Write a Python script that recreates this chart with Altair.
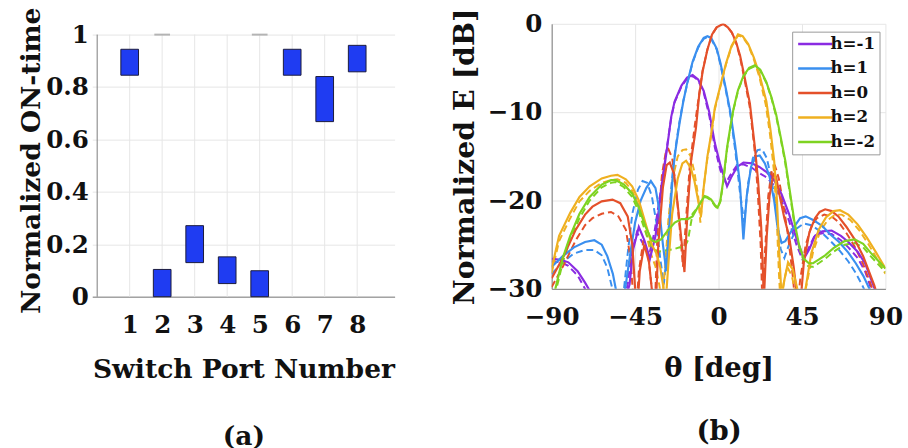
import altair as alt
import pandas as pd

FONT = "DejaVu Serif"

# ---------------- panel (a) data ----------------
ports = [1, 2, 3, 4, 5, 6, 7, 8]
on_low = [0.845, 0.0, 0.13, 0.05, 0.0, 0.845, 0.668, 0.858]
on_high = [0.944, 0.104, 0.271, 0.152, 0.099, 0.944, 0.84, 0.959]
cap_ports = [2, 5]
cap_values = [1.0, 1.0]
y_ticks_a = [0, 0.2, 0.4, 0.6, 0.8, 1.0]
grid_a_bottom = [0.0] * 8
grid_a_top = [1.0] * 8

# ---------------- panel (b) data (theta deg, dB) ----------------
series_names = ["h=-1", "h=1", "h=0", "h=2", "h=-2"]
series_colors = ["#8A2BE2", "#3A8FEF", "#E4502A", "#EFB020", "#7ED321"]

purple_solid = [(-90,-26.6),(-85,-26.7),(-81,-27),(-76,-28),(-72,-29.3),(-68.7,-30.5),(-65,-33),(-55,-33),(-50,-31),(-48,-29.5),(-46,-25.5),(-43,-23),(-40,-24.5),(-37,-26.6),(-34,-24),(-31,-19),(-28,-14.4),(-25.5,-10.5),(-23.7,-8.8),(-20,-7),(-17,-6.1),(-14,-5.8),(-11,-6.3),(-8,-7.6),(-5,-10),(-2,-13.5),(1,-16),(4.6,-18.4),(7,-17.3),(10,-16.2),(13.4,-15.7),(18,-15.8),(22,-16.2),(26,-16.8),(30,-17.7),(34,-19.3),(38,-21.5),(42,-24.3),(46,-26.6),(49,-25.5),(52,-24),(56,-23.5),(61,-23.4),(66,-24),(70,-24.7),(75,-25.8),(79,-27.1),(84,-29.9),(86,-31)]
purple_dash = [(-90,-26.9),(-85,-27),(-81,-27.4),(-76,-28.5),(-72,-30),(-68,-31.5),(-60,-34),(-52,-32),(-49,-29.5),(-47,-26),(-44,-23.6),(-41,-24.8),(-37.5,-26.2),(-34.5,-23.5),(-31,-18.6),(-28,-14.2),(-25.5,-10.6),(-23.7,-8.9),(-20,-7.1),(-17,-6.2),(-14,-5.9),(-11,-6.4),(-8,-7.8),(-5,-10.4),(-2,-14),(1,-16.6),(4,-18),(7,-16.9),(10,-16),(13.4,-15.9),(18,-16.3),(22,-16.9),(26,-17.4),(30,-18.3),(34,-20),(38,-22.3),(42,-25),(45.5,-26.8),(49,-25.2),(52,-23.9),(56,-23.7),(61,-23.8),(66,-24.5),(70,-25.3),(75,-26.5),(79,-28),(83,-30.4),(85,-31.5)]

blue_solid = [(-90,-27.5),(-84,-26.3),(-78,-25.3),(-72,-24.7),(-67,-24.5),(-63,-25),(-60,-26.3),(-57,-28.3),(-54.5,-31),(-52,-32),(-50,-29.5),(-47.6,-26),(-45,-22.5),(-42,-20),(-39,-18.6),(-36.5,-17.8),(-34,-18.6),(-32,-21),(-30,-25),(-28.2,-28),(-26.5,-23),(-24.5,-16.5),(-23,-14),(-21,-11.2),(-19,-8.8),(-17,-6.8),(-14,-4.3),(-11,-2.6),(-8,-1.6),(-6,-1.4),(-4,-1.6),(-1,-2.8),(1,-4.4),(4,-7.4),(6.3,-9.9),(9,-13.8),(11.5,-18),(13.4,-24.4),(15.2,-19.5),(17.5,-16.2),(20,-15),(22.2,-14.9),(25,-15.8),(27.5,-17.3),(30,-20),(32,-23.3),(34,-24.8),(36,-24.6),(40,-23.2),(44,-22),(47,-21.8),(51,-22.2),(56,-22.9),(60,-23.8),(65,-24.7),(70,-25.9),(74,-27.1),(78,-28.5),(81.4,-30),(84,-31)]
blue_dash = [(-90,-28.3),(-84,-27),(-78,-26),(-72,-25.6),(-67,-25.6),(-63,-26.2),(-60,-27.6),(-57.5,-29.8),(-55.5,-32),(-53,-33),(-51,-30),(-49,-26),(-46.5,-21.5),(-43.5,-18.8),(-41,-17.8),(-38.5,-18),(-36,-19.5),(-33.5,-22.5),(-31.5,-26.5),(-29.5,-29.5),(-27.5,-25),(-25.5,-18.5),(-23.5,-14.5),(-21.5,-11.6),(-19,-8.7),(-17,-6.9),(-14,-4.4),(-11,-2.7),(-8,-1.7),(-6,-1.5),(-4,-1.7),(-1,-2.9),(1,-4.6),(4,-7.6),(6.3,-10.2),(9,-14.3),(11.5,-19),(13.8,-22.5),(16,-18),(18.5,-15.2),(21,-14.3),(23.5,-14.2),(26,-15.2),(28.5,-17.5),(31,-21),(33.5,-25.5),(35.5,-26.5),(38,-25),(42,-23.2),(46,-22.6),(50,-22.8),(55,-23.5),(60,-24.5),(65,-25.6),(70,-26.9),(74,-28.2),(78,-29.8),(80.5,-31)]

red_solid = [(-90,-28.8),(-84,-26.5),(-77,-23.3),(-72,-21.6),(-68,-20.7),(-63,-20.1),(-57.2,-19.9),(-53,-20.3),(-49,-21.8),(-46.5,-25),(-45,-30),(-44,-33),(-42.5,-28),(-40,-25),(-37.5,-27),(-35.5,-31),(-34,-33),(-32.5,-25),(-30,-18.5),(-28,-16),(-26.3,-15.7),(-24,-17),(-22,-20.5),(-20,-24.5),(-18.4,-28.1),(-16.8,-21.5),(-14.8,-15.5),(-12.2,-11.8),(-10.5,-8.2),(-8.6,-5.4),(-6,-2.9),(-3.5,-1.2),(-1,-0.4),(2.5,0),(5,-0.4),(7.2,-1),(9.5,-2.1),(11.6,-3.6),(14,-6),(16.9,-9),(19.6,-14),(21.3,-17.7),(23,-23),(24.5,-31),(26,-24),(27.5,-19.5),(29.5,-17),(31,-17.3),(33,-19.5),(35.5,-22),(38,-24),(40.5,-27.5),(42.5,-31),(44,-32),(46,-27),(49,-23.6),(52,-22),(54.5,-21.3),(57.5,-21),(61,-21.2),(64.6,-21.8),(69,-23),(73.4,-24.4),(78,-26.3),(84,-29.6),(86,-31)]
red_dash = [(-90,-29.8),(-84,-27.5),(-77,-24.5),(-72,-22.8),(-68,-22),(-63,-21.5),(-58,-21.3),(-54,-21.8),(-50,-23.3),(-47.5,-26.5),(-46,-31),(-44.5,-33),(-43,-28),(-40.5,-24.5),(-38,-26),(-36,-30),(-34.5,-33),(-33,-24),(-30.5,-17),(-28.5,-14.6),(-27,-14.2),(-25,-15.2),(-23,-18.5),(-21,-23),(-19.2,-27.5),(-17.5,-22),(-15.5,-16),(-12.8,-11.5),(-10.5,-8),(-8.6,-5.3),(-6,-2.9),(-3.5,-1.2),(-1,-0.4),(2.5,0),(5,-0.4),(7.2,-1),(9.5,-2.2),(11.6,-3.8),(14,-6.3),(16.9,-9.5),(19.3,-14),(21,-18.5),(22.7,-25),(23.7,-32),(25,-26),(26.8,-19.5),(28.7,-16.5),(30.5,-16.1),(32.5,-17.5),(35,-20.5),(37.5,-24),(40,-28.5),(42,-33),(44,-29),(47,-25),(50,-23),(53,-22),(57,-21.6),(61,-21.8),(65,-22.5),(69,-23.7),(73.4,-25.2),(78,-27.2),(83,-30),(85,-31.5)]

yellow_solid = [(-90,-27.7),(-86,-24),(-80,-21.4),(-75,-19.6),(-69.5,-18.4),(-63,-17.5),(-58,-17.2),(-54.5,-17.1),(-50,-17.6),(-46.6,-18.4),(-43,-20),(-39.5,-22.5),(-36,-25),(-33.5,-26),(-31.5,-27.5),(-30,-29.5),(-28.5,-31.5),(-27,-27),(-25,-21.5),(-22,-17.5),(-19.5,-15.8),(-17.5,-15.5),(-15,-16.3),(-13,-17.8),(-11,-20),(-9.5,-21.8),(-8,-18.5),(-6,-15),(-4,-12.5),(-2,-9.5),(1,-7),(4,-4.5),(7,-2.5),(10.5,-1.2),(13,-1.4),(16,-2.3),(19,-3.8),(22,-5.7),(25.8,-8.8),(28,-12),(30,-15.5),(31.5,-20),(33,-27),(34,-31),(35.5,-29),(37.5,-27),(40,-27.8),(42.5,-30),(44,-32),(46.9,-30),(50,-26),(54,-23.3),(58,-21.9),(62,-21.2),(65.5,-21.1),(70,-21.6),(75,-22.7),(80,-24.2),(85,-25.9),(90,-27.7)]
yellow_dash = [(-90,-28.2),(-86,-24.6),(-80,-22),(-75,-20.1),(-69.5,-18.9),(-63,-18),(-58,-17.7),(-54.5,-17.6),(-50,-18),(-46.6,-18.9),(-43,-20.6),(-39.5,-23.3),(-36.5,-26),(-34,-27.5),(-32,-29.5),(-30.5,-31.5),(-29,-28),(-27,-22),(-24.5,-17.3),(-22,-15),(-19.5,-14.3),(-17.5,-14.2),(-15,-15),(-13,-16.8),(-11,-19.5),(-9.8,-22.5),(-8.2,-18.8),(-6,-15.2),(-4,-12.7),(-2,-9.7),(1,-7.1),(4,-4.6),(7,-2.6),(10.5,-1.3),(13,-1.5),(16,-2.4),(19,-4),(22,-6),(25.5,-9.2),(27.8,-12.6),(29.8,-16.5),(31.2,-21),(32.5,-28),(33.5,-32),(35,-29.5),(37,-27.5),(39.5,-28.5),(42,-31),(44,-33),(47.5,-29.5),(51,-25.8),(55,-23.4),(59,-22.2),(63,-21.6),(66.5,-21.6),(71,-22.2),(76,-23.4),(81,-25),(86,-26.8),(90,-28.3)]

green_solid = [(-90,-31.5),(-88,-30),(-84,-26.5),(-80,-24),(-75,-21.5),(-69.5,-19.6),(-63,-18.2),(-58,-17.7),(-55.4,-17.7),(-51,-18.2),(-46.6,-19.2),(-43,-20.8),(-39.5,-22.9),(-36,-24.5),(-34,-24.7),(-31,-24.4),(-27,-23.3),(-23.6,-22.5),(-20,-22.1),(-16.6,-22.1),(-14,-21.8),(-11.3,-20.8),(-9,-20),(-7.5,-19.5),(-6,-19.6),(-4,-19.9),(-2,-20.5),(-0.5,-20.8),(1,-20),(2.5,-17.8),(4.6,-14),(6.5,-11.5),(8.1,-9.6),(10.5,-7.5),(13.4,-5.9),(16.5,-5),(19.6,-4.7),(22.5,-5.2),(25.8,-6.6),(28.5,-8.3),(31.1,-10.3),(33.5,-12.8),(36,-15.5),(38.5,-19),(41,-22.5),(43.4,-25),(46,-26.6),(48.7,-27.1),(51,-27.1),(54,-26.7),(57.5,-26.2),(62,-25.4),(68,-24.6),(73.4,-24.4),(78,-24.9),(82,-25.9),(86,-26.8),(90,-27.7)]
green_dash = [(-90,-32),(-88,-30.5),(-84,-27),(-80,-24.4),(-75,-22),(-69.5,-20),(-63,-18.5),(-58,-18),(-55.4,-17.9),(-51,-18.5),(-46.6,-19.6),(-43,-21.3),(-39.5,-23.5),(-36,-25.3),(-33,-25.8),(-30,-25.7),(-27,-25.6),(-24,-25.5),(-21,-25.3),(-18.5,-25.4),(-16.5,-24.5),(-14,-21.5),(-11.3,-20.8),(-9,-20),(-7.5,-19.6),(-6,-19.7),(-4,-20),(-2,-20.6),(-0.5,-20.9),(1,-20.1),(2.5,-18),(4.6,-14.2),(6.5,-11.6),(8.1,-9.7),(10.5,-7.6),(13.4,-6),(16.5,-5.1),(19.6,-4.8),(22.5,-5.3),(25.8,-6.7),(28.5,-8.4),(31.1,-10.5),(33.5,-13),(36,-15.8),(38.5,-19.3),(41,-22.8),(43.4,-25.3),(46,-26.9),(48.7,-27.5),(51,-27.5),(54,-27.1),(57.5,-26.6),(62,-25.8),(68,-25),(73.4,-24.8),(78,-25.3),(82,-26.3),(86,-27.2),(90,-28.1)]

x_ticks_b = [-90, -45, 0, 45, 90]
y_ticks_b = [-30, -20, -10, 0]

# ---------------- build tables ----------------
bars_df = pd.DataFrame({"port": ports, "low": on_low, "high": on_high})
caps_df = pd.DataFrame({"port": cap_ports, "val": cap_values})
vgrid_df = pd.DataFrame({"port": ports, "low": grid_a_bottom, "high": grid_a_top})
yline_df = pd.DataFrame({"port": [0], "low": [0.0], "high": [1.0]})

solid_sets = [purple_solid, blue_solid, red_solid, yellow_solid, green_solid]
dash_sets = [purple_dash, blue_dash, red_dash, yellow_dash, green_dash]
rows = []
for name, s, d in zip(series_names, solid_sets, dash_sets):
    for i, (t, v) in enumerate(s):
        rows.append({"theta": t, "db": v, "series": name, "style": "solid", "order": i})
    for i, (t, v) in enumerate(d):
        rows.append({"theta": t, "db": v, "series": name, "style": "dash", "order": i})
lines_df = pd.DataFrame(rows)

AX_COLOR = "#7a7a7a"
GRID = "#e6e6e6"
TXT = "#111111"
TICK_FS = 25

# ---------------- panel (a) ----------------
xa = alt.X("port:Q",
           scale=alt.Scale(domain=[0, 9], nice=False, zero=False),
           axis=alt.Axis(values=ports, format="d", grid=False, domain=True,
                         domainColor=AX_COLOR, ticks=False, labelFlush=False,
                         labelOverlap=False,
                         labelFont=FONT, labelFontSize=TICK_FS, labelFontWeight="bold",
                         labelColor=TXT, labelPadding=16,
                         title=["Switch Port Number", "(a)"],
                         titleFont=FONT, titleFontSize=27, titleFontWeight="bold",
                         titleColor=TXT, titleLineHeight=69, titlePadding=20))
# y domain reaches a little above 1 so that this panel sits lower than panel (b)
ya = alt.Y("low:Q",
           scale=alt.Scale(domain=[0, 1.0412], nice=False),
           axis=alt.Axis(values=y_ticks_a, format="~g", grid=True, gridColor=GRID,
                         domain=False, ticks=False, labelFlush=False,
                         labelOverlap=False,
                         labelFont=FONT, labelFontSize=TICK_FS, labelFontWeight="bold",
                         labelColor=TXT, labelPadding=4,
                         title="Normalized ON-time",
                         titleFont=FONT, titleFontSize=27, titleFontWeight="bold",
                         titleColor=TXT, titlePadding=0))

vgrid = alt.Chart(vgrid_df).mark_rule(color=GRID, strokeWidth=1).encode(
    x=xa, y=ya, y2="high:Q")
yaxis_line = alt.Chart(yline_df).mark_rule(color=AX_COLOR, strokeWidth=1).encode(
    x="port:Q", y="low:Q", y2="high:Q")
bars = alt.Chart(bars_df).mark_bar(size=18, color="#1F3CF2", stroke="#1a1a3a",
                                   strokeWidth=1).encode(x="port:Q", y="low:Q", y2="high:Q")
caps = alt.Chart(caps_df).mark_tick(orient="horizontal", size=16, thickness=2,
                                    color="#999999").encode(x="port:Q", y=alt.Y("val:Q"))

left = alt.layer(vgrid, yaxis_line, bars, caps).properties(width=308, height=278)

# ---------------- panel (b) ----------------
xb = alt.X("theta:Q",
           scale=alt.Scale(domain=[-90, 90], nice=False),
           axis=alt.Axis(values=x_ticks_b, grid=True, gridColor=GRID,
                         domainColor=AX_COLOR, ticks=False, labelFlush=False,
                         labelOverlap=False,
                         labelFont=FONT, labelFontSize=TICK_FS, labelFontWeight="bold",
                         labelColor=TXT, labelPadding=16,
                         title=["θ [deg]", "(b)"],
                         titleFont=FONT, titleFontSize=28, titleFontWeight="bold",
                         titleColor=TXT, titleLineHeight=64, titlePadding=26))
yb = alt.Y("db:Q",
           scale=alt.Scale(domain=[-30, 0], nice=False),
           axis=alt.Axis(values=y_ticks_b, grid=True, gridColor=GRID,
                         domainColor=AX_COLOR, ticks=False, labelFlush=False,
                         labelOverlap=False,
                         labelFont=FONT, labelFontSize=TICK_FS, labelFontWeight="bold",
                         labelColor=TXT, labelPadding=10,
                         title="Normalized E [dB]",
                         titleFont=FONT, titleFontSize=29, titleFontWeight="bold",
                         titleColor=TXT, titlePadding=8))

color_scale = alt.Scale(domain=series_names, range=series_colors)

dashed = alt.Chart(lines_df).transform_filter(alt.datum.style == "dash").mark_line(
    clip=True, strokeWidth=2, strokeDash=[7, 4]).encode(
    x=xb, y=yb,
    color=alt.Color("series:N", scale=color_scale, legend=None),
    detail="series:N", order="order:Q")

solid = alt.Chart(lines_df).transform_filter(alt.datum.style == "solid").mark_line(
    clip=True, strokeWidth=2.2).encode(
    x=xb, y=yb,
    color=alt.Color("series:N", scale=color_scale,
                    legend=alt.Legend(orient="none", legendX=245, legendY=8,
                                      title=None, fillColor="white",
                                      strokeColor="#999999", padding=4,
                                      labelFont=FONT, labelFontSize=17,
                                      labelFontWeight="bold", labelColor=TXT,
                                      symbolType="M-2.9,0L2.9,0", symbolSize=144,
                                      symbolStrokeWidth=2.5, symbolOffset=11,
                                      labelOffset=7, rowPadding=7)),
    detail="series:N", order="order:Q")

right = alt.layer(dashed, solid).resolve_scale(color="independent").properties(
    width=340, height=270)

chart = alt.hconcat(left, right, spacing=57).properties(
    padding={"left": 18, "top": 2, "right": 5, "bottom": 0},
    background="white"
).configure_view(stroke=None)

chart.save("out.html", embed_options={"renderer": "svg", "actions": False})
